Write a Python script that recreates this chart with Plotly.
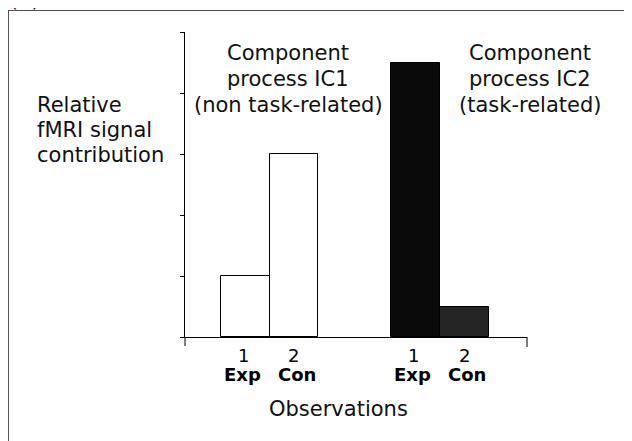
import plotly.graph_objects as go

# ---- data ----
groups = ["IC1", "IC1", "IC2", "IC2"]
obs_numbers = ["1", "2", "1", "2"]
obs_labels = ["Exp", "Con", "Exp", "Con"]
values = [1.0, 3.0, 4.5, 0.5]
y_ticks = [0, 1, 2, 3, 4, 5]

# ---- layout geometry / styles (not data) ----
positions = [1.23, 2.23, 4.72, 5.72]
bar_colors = ["#ffffff", "#ffffff", "#0a0a0a", "#252525"]
OFF = 8  # default body margin of the html page
W, H = 632 - OFF, 441 - OFF
# plot area in page pixels: x 185..527, y 32..337
L, T = 185 - OFF, 32 - OFF
R = W - (527 - OFF)
B = H - (337 - OFF)
PW, PH = W - L - R, H - T - B
FONT = "DejaVu Sans, Verdana, sans-serif"


def px(xp):  # page pixel x -> paper
    return (xp - OFF - L) / PW


def py(yp):  # page pixel y -> paper
    return (H - B - (yp - OFF)) / PH


fig = go.Figure()
fig.add_trace(go.Bar(
    x=positions, y=values, width=1.0,
    marker=dict(color=bar_colors, line=dict(color="#000000", width=1)),
    showlegend=False, hoverinfo="skip",
))

annotations = []
# observation tick labels (two rows)
for i, (n, lab) in enumerate(zip(obs_numbers, obs_labels)):
    shift = -3 if lab == "Exp" else 3
    annotations.append(dict(x=positions[i], y=py(355), xref="x", yref="paper",
                            text=n, showarrow=False, xanchor="center", yanchor="middle",
                            xshift=-2 if lab == "Exp" else 0,
                            font=dict(family=FONT, size=18, color="#000")))
    annotations.append(dict(x=positions[i], y=py(374), xref="x", yref="paper",
                            text="<b>%s</b>" % lab, showarrow=False, xanchor="center",
                            yanchor="middle", xshift=shift,
                            font=dict(family=FONT, size=18, color="#000")))

# group titles
titles = {
    288: ["Component", "process IC1", "(non task-related)"],
    530: ["Component", "process IC2", "(task-related)"],
}
for cx, lines in titles.items():
    for j, line in enumerate(lines):
        annotations.append(dict(x=px(cx), y=py(53 + 26 * j), xref="paper", yref="paper",
                                text=line, showarrow=False, xanchor="center", yanchor="middle",
                                font=dict(family=FONT, size=21, color="#111")))

# y-axis description
for j, line in enumerate(["Relative", "fMRI signal", "contribution"]):
    annotations.append(dict(x=px(35), y=py(105 + 25 * j), xref="paper", yref="paper",
                            text=line, showarrow=False, xanchor="left", yanchor="middle",
                            font=dict(family=FONT, size=21, color="#111")))

# x-axis description
annotations.append(dict(x=px(338), y=py(409), xref="paper", yref="paper",
                        text="Observations", showarrow=False, xanchor="center", yanchor="middle",
                        font=dict(family=FONT, size=21, color="#111")))

# panel letter (cropped at the top edge, as in the reference)
annotations.append(dict(x=px(8), y=py(14), xref="paper", yref="paper",
                        text="(B)", showarrow=False, xanchor="left", yanchor="bottom",
                        font=dict(family=FONT, size=20, color="#111")))

shapes = [
    # outer frame (top and left)
    dict(type="line", xref="paper", yref="paper", x0=px(7.5), x1=px(640), y0=py(10.5), y1=py(10.5),
         line=dict(color="#555", width=1)),
    dict(type="line", xref="paper", yref="paper", x0=px(8.5), x1=px(8.5), y0=py(10.5), y1=py(450),
         line=dict(color="#555", width=1)),
    # y-axis extension below baseline
    dict(type="line", xref="paper", yref="paper", x0=0, x1=0, y0=0, y1=py(346),
         line=dict(color="#000", width=1)),
    # end tick on x axis
    dict(type="line", xref="paper", yref="paper", x0=1, x1=1, y0=0, y1=py(347),
         line=dict(color="#000", width=1)),
]

fig.update_layout(
    width=W, height=H,
    margin=dict(l=L, r=R, t=T, b=B, pad=0),
    paper_bgcolor="#ffffff", plot_bgcolor="#ffffff",
    annotations=annotations, shapes=shapes,
    bargap=0,
    xaxis=dict(range=[0, 7], showline=True, linecolor="#000", linewidth=1,
               showticklabels=False, ticks="", showgrid=False, zeroline=False, fixedrange=True),
    yaxis=dict(range=[0, 5], tickvals=y_ticks, showline=True, linecolor="#000", linewidth=1,
               ticks="outside", ticklen=4, tickcolor="#000", showticklabels=False,
               showgrid=False, zeroline=False, fixedrange=True),
)

fig.write_html("out.html")
